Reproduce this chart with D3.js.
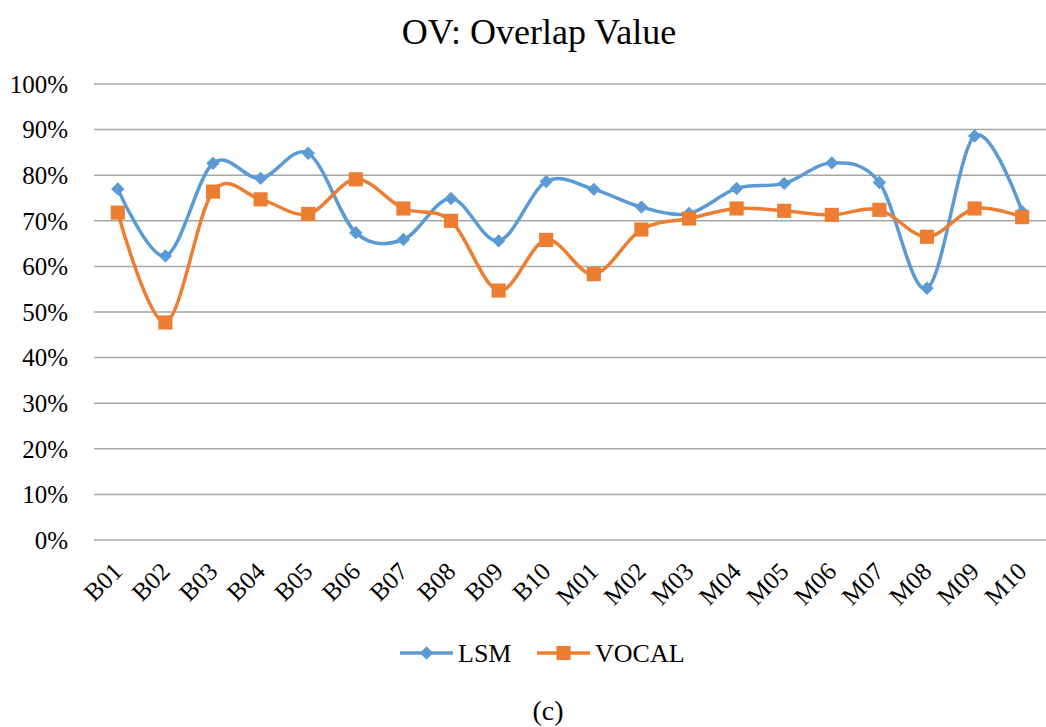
<!DOCTYPE html>
<html>
<head>
<meta charset="utf-8">
<title>OV: Overlap Value</title>
<script src="https://cdn.jsdelivr.net/npm/d3@7/dist/d3.min.js"></script>
<style>
  body { margin: 0; background: #fff; }
  svg text { font-family: "Liberation Serif", "Times New Roman", Times, serif; fill: #000; }
</style>
</head>
<body>
<div id="chart"></div>
<script>
// data
var categories = ["B01","B02","B03","B04","B05","B06","B07","B08","B09","B10",
                  "M01","M02","M03","M04","M05","M06","M07","M08","M09","M10"];
var lsm   = [77.0, 62.3, 82.6, 79.3, 84.8, 67.4, 65.9, 74.9, 65.6, 78.6,
             76.9, 73.0, 71.6, 77.1, 78.2, 82.7, 78.4, 55.2, 88.6, 72.0];
var vocal = [71.8, 47.7, 76.4, 74.7, 71.5, 79.1, 72.7, 70.0, 54.7, 65.8,
             58.3, 68.1, 70.5, 72.7, 72.2, 71.3, 72.4, 66.5, 72.7, 70.8];
var yTicks = [0,10,20,30,40,50,60,70,80,90,100];

var width = 1046, height = 727;
var margin = {top: 84, right: 0, bottom: 187, left: 94};

var svg = d3.select('#chart').append('svg')
    .attr('width', width)
    .attr('height', height);

var x = d3.scalePoint()
    .domain(categories)
    .range([margin.left, width - margin.right])
    .padding(0.5);

var y = d3.scaleLinear()
    .domain([0, 100])
    .range([height - margin.bottom, margin.top]);

// title
svg.append('text')
    .attr('x', 539).attr('y', 44)
    .attr('text-anchor', 'middle')
    .style('font-size', '36px')
    .text('OV: Overlap Value');

// gridlines
svg.append('g').selectAll('line')
    .data(yTicks)
    .enter().append('line')
    .attr('x1', margin.left).attr('x2', width - margin.right)
    .attr('y1', d => y(d)).attr('y2', d => y(d))
    .attr('stroke', '#a6a6a6')
    .attr('stroke-width', 1.5);

// y labels
svg.append('g').selectAll('text')
    .data(yTicks)
    .enter().append('text')
    .attr('x', 68).attr('y', d => y(d))
    .attr('dy', '0.35em')
    .attr('text-anchor', 'end')
    .style('font-size', '25px')
    .text(d => d + '%');

// x labels, rotated
svg.append('g').selectAll('text')
    .data(categories)
    .enter().append('text')
    .attr('text-anchor', 'end')
    .attr('transform', d => 'translate(' + (x(d) + 6) + ',' + 573 + ') rotate(-45)')
    .style('font-size', '25px')
    .text(d => d);

var line = d3.line()
    .x((d, i) => x(categories[i]))
    .y(d => y(d))
    .curve(d3.curveCardinal.tension(0));

// diamond = square turned 45deg, like the spreadsheet marker
var series = [
    {name: 'LSM', values: lsm, color: '#5b9bd5', size: 90, rot: 45},
    {name: 'VOCAL', values: vocal, color: '#ed7d31', size: 200, rot: 0}
];

series.forEach(function (s) {
    svg.append('path')
        .datum(s.values)
        .attr('d', line)
        .attr('fill', 'none')
        .attr('stroke', s.color)
        .attr('stroke-width', 3.5);
});

series.forEach(function (s) {
    svg.append('g').selectAll('path')
        .data(s.values)
        .enter().append('path')
        .attr('d', d3.symbol().type(d3.symbolSquare).size(s.size))
        .attr('transform', (d, i) => 'translate(' + x(categories[i]) + ',' + y(d) + ') rotate(' + s.rot + ')')
        .attr('fill', s.color);
});

// legend
var legendX = [400, 537];
series.forEach(function (s, i) {
    var g = svg.append('g').attr('transform', 'translate(' + legendX[i] + ',653)');
    g.append('line')
        .attr('x1', 0).attr('x2', 53)
        .attr('stroke', s.color)
        .attr('stroke-width', 3.5);
    g.append('path')
        .attr('d', d3.symbol().type(d3.symbolSquare).size(s.size))
        .attr('transform', 'translate(26.5,0) rotate(' + s.rot + ')')
        .attr('fill', s.color);
    g.append('text')
        .attr('x', 58).attr('dy', '0.35em')
        .style('font-size', '26px')
        .text(s.name);
});

// caption
svg.append('text')
    .attr('x', 548).attr('y', 720)
    .attr('text-anchor', 'middle')
    .style('font-size', '28px')
    .text('(c)');
</script>
</body>
</html>
